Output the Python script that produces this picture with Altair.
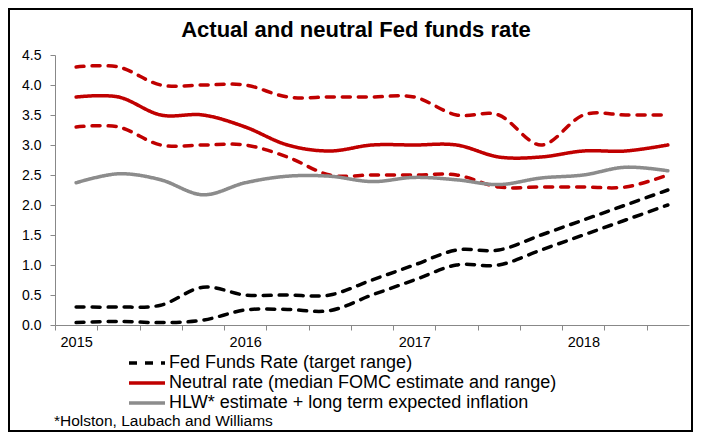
import altair as alt
import pandas as pd

quarters = ["2015Q1", "2015Q2", "2015Q3", "2015Q4",
            "2016Q1", "2016Q2", "2016Q3", "2016Q4",
            "2017Q1", "2017Q2", "2017Q3", "2017Q4",
            "2018Q1", "2018Q2", "2018Q3"]

ff_upper = [0.30, 0.30, 0.33, 0.63, 0.50, 0.50, 0.50, 0.75, 1.00, 1.25, 1.25, 1.50, 1.75, 2.00, 2.25]
ff_lower = [0.04, 0.06, 0.04, 0.08, 0.25, 0.26, 0.24, 0.50, 0.75, 1.00, 1.00, 1.25, 1.50, 1.75, 2.00]
neutral_high = [4.30, 4.30, 4.00, 4.00, 4.00, 3.80, 3.80, 3.80, 3.80, 3.50, 3.50, 3.00, 3.50, 3.50, 3.50]
neutral_median = [3.80, 3.80, 3.50, 3.50, 3.30, 3.00, 2.90, 3.00, 3.00, 3.00, 2.80, 2.80, 2.90, 2.90, 3.00]
neutral_low = [3.30, 3.30, 3.00, 3.00, 3.00, 2.80, 2.50, 2.50, 2.50, 2.50, 2.30, 2.30, 2.30, 2.30, 2.50]
hlw = [2.37, 2.52, 2.42, 2.17, 2.37, 2.48, 2.48, 2.39, 2.46, 2.42, 2.34, 2.45, 2.50, 2.63, 2.57]

y_ticks = [0.0, 0.5, 1.0, 1.5, 2.0, 2.5, 3.0, 3.5, 4.0, 4.5]

legend_labels = ["Fed Funds Rate (target range)",
                 "Neutral rate (median FOMC estimate and range)",
                 "HLW* estimate + long term expected inflation"]
colors = ["#000000", "#C00000", "#8C8C8C"]

title_text = "Actual and neutral Fed funds rate"
footnote_text = "*Holston, Laubach and Williams"

FONT = "Liberation Sans"
AXIS_GRAY = "#888888"
DASH = [8, 8]
W, H = 634, 270
HALF_BAND = W / len(quarters) / 2


def long_rows(defs):
    rows = []
    for name, vals, grp in defs:
        for q, v in zip(quarters, vals):
            rows.append({"quarter": q, "rate": v, "series": name, "grp": grp})
    return pd.DataFrame(rows)


df_main = long_rows([
    ("ff_upper", ff_upper, legend_labels[0]),
    ("neutral_median", neutral_median, legend_labels[1]),
    ("hlw", hlw, legend_labels[2]),
])
df_other = long_rows([
    ("ff_lower", ff_lower, legend_labels[0]),
    ("neutral_high", neutral_high, legend_labels[1]),
    ("neutral_low", neutral_low, legend_labels[1]),
])

x_enc = alt.X(
    "quarter:O",
    scale=alt.Scale(type="band", domain=quarters, paddingInner=0, paddingOuter=0),
    bandPosition=0.5,
    axis=alt.Axis(
        title=None,
        tickOffset=-HALF_BAND,
        labelOffset=HALF_BAND,
        labelExpr="slice(datum.value, 4) == 'Q1' ? slice(datum.value, 0, 4) : ''",
        labelAngle=0,
        labelOverlap=False,
        labelFontSize=14.5,
        labelColor="#000000",
        labelPadding=5,
        domainColor=AXIS_GRAY,
        tickColor=AXIS_GRAY,
        tickSize=5,
        grid=False,
    ),
)
y_enc = alt.Y(
    "rate:Q",
    scale=alt.Scale(domain=[0, 4.5], nice=False),
    axis=alt.Axis(
        title=None,
        values=y_ticks,
        format=".1f",
        labelFontSize=14,
        labelColor="#000000",
        labelPadding=9,
        domainColor=AXIS_GRAY,
        tickColor=AXIS_GRAY,
        tickSize=5,
        grid=False,
    ),
)

color_enc = alt.Color(
    "grp:N",
    scale=alt.Scale(domain=legend_labels, range=colors),
    legend=alt.Legend(title=None),
)

line_props = dict(interpolate="cardinal", strokeWidth=3.5,
                  strokeCap="round", strokeJoin="round")

lines_other = alt.Chart(df_other).mark_line(strokeDash=DASH, **line_props).encode(
    x=x_enc, y=y_enc, color=color_enc, detail="series:N"
)

lines_main = alt.Chart(df_main).mark_line(**line_props).encode(
    x=x_enc,
    y=y_enc,
    color=color_enc,
    strokeDash=alt.StrokeDash(
        "grp:N",
        scale=alt.Scale(domain=legend_labels, range=[DASH, [1, 0], [1, 0]]),
        legend=alt.Legend(title=None),
    ),
    detail="series:N",
)

frame = alt.Chart(pd.DataFrame({"f": [0]})).mark_rect(
    fill="transparent", stroke="#000000", strokeWidth=2
).encode(
    x=alt.value(-46), x2=alt.value(637), y=alt.value(-46), y2=alt.value(376)
)

title = alt.Chart(pd.DataFrame({"t": [title_text]})).mark_text(
    fontSize=22, fontWeight="bold", font=FONT, align="center", baseline="middle", color="#000000"
).encode(text="t:N", x=alt.value(301), y=alt.value(-25))

footnote = alt.Chart(pd.DataFrame({"t": [footnote_text]})).mark_text(
    fontSize=15.5, font=FONT, align="left", baseline="middle", color="#000000"
).encode(text="t:N", x=alt.value(-1), y=alt.value(366))

chart = alt.layer(frame, lines_other, lines_main, title, footnote).properties(
    width=W, height=H, padding=0, background="#ffffff"
).configure(font=FONT).configure_view(strokeWidth=0).configure_legend(
    orient="none",
    legendX=72,
    legendY=299,
    symbolType="stroke",
    symbolSize=1296,
    symbolStrokeWidth=3.5,
    clipHeight=18,
    labelFontSize=18,
    labelFont=FONT,
    labelColor="#000000",
    labelOffset=2,
    labelLimit=700,
    rowPadding=2,
    padding=0,
)

chart.save("out.html", embed_options={"renderer": "svg", "actions": False})
